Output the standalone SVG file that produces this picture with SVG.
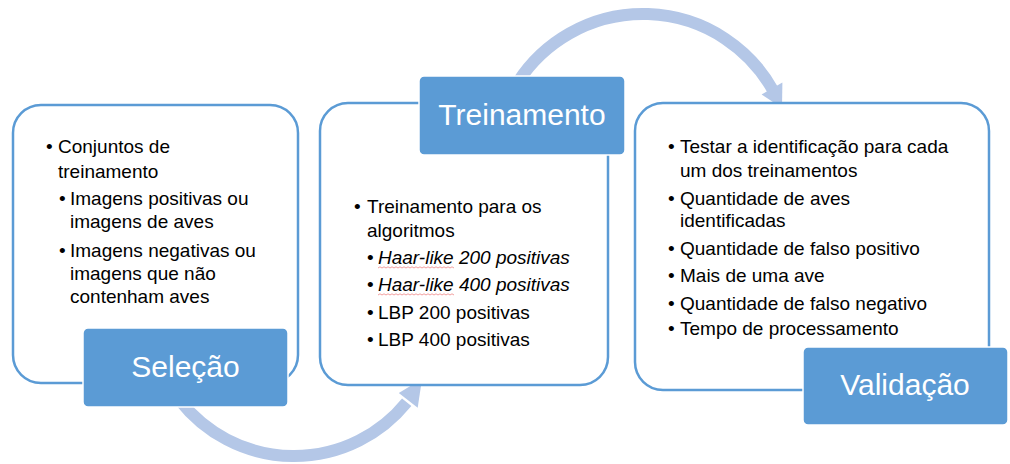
<svg xmlns="http://www.w3.org/2000/svg" width="1010" height="464" viewBox="0 0 1010 464">
<defs>
<style>
.panel{fill:#ffffff;stroke:#5b9bd5;stroke-width:2.5}
.label{fill:#5b9bd5;stroke:#ffffff;stroke-width:1.5}
.lt{font-family:"Liberation Sans",Arial,sans-serif;font-size:30px;fill:#ffffff;text-anchor:middle}
.t{font-family:"Liberation Sans",Arial,sans-serif;font-size:19px;fill:#000000}
.it{font-style:italic}
.shaft{fill:none;stroke:#b4c7e7;stroke-width:12}
.head{fill:#b4c7e7}
.sq{fill:none;stroke:#f2a0a0;stroke-width:1}
</style>
</defs>
<rect width="1010" height="464" fill="#ffffff"/>
<g id="connectors">
<path class="shaft" d="M179.7,400.3 A145,145 0 0 0 406.7,402.2"/>
<polygon class="head" points="398.8,392.9 422,379 417.7,407.7"/>
<path class="shaft" d="M518,81.9 A149,149 0 0 1 773.3,90.8"/>
<polygon class="head" points="761.6,94.5 782.4,82.5 782,108"/>
</g>
<g id="selecao">
<rect class="panel" x="13" y="105" width="285" height="278" rx="28"/>
<text class="t" x="46" y="153">•</text><text class="t" x="58" y="153">Conjuntos de</text>
<text class="t" x="58" y="178">treinamento</text>
<text class="t" x="59" y="205">•</text><text class="t" x="70" y="205">Imagens positivas ou</text>
<text class="t" x="70" y="228">imagens de aves</text>
<text class="t" x="59" y="257">•</text><text class="t" x="70" y="257">Imagens negativas ou</text>
<text class="t" x="70" y="280">imagens que não</text>
<text class="t" x="70" y="303">contenham aves</text>
<rect class="label" x="83" y="328" width="205" height="79" rx="5"/>
<text class="lt" x="185.5" y="377">Seleção</text>
</g>
<g id="treinamento">
<rect class="panel" x="320" y="103" width="288" height="282" rx="28"/>
<text class="t" x="354" y="213">•</text><text class="t" x="367" y="213">Treinamento para os</text>
<text class="t" x="367" y="237">algoritmos</text>
<text class="t" x="367" y="264">•</text><text class="t it" x="378" y="264">Haar-like 200 positivas</text>
<path class="sq" d="M378,268 l2,-1.2 l2,1.2 l2,-1.2 l2,1.2 l2,-1.2 l2,1.2 l2,-1.2 l2,1.2 l2,-1.2 l2,1.2 l2,-1.2 l2,1.2 l2,-1.2 l2,1.2 l2,-1.2 l2,1.2 l2,-1.2 l2,1.2 l2,-1.2 l2,1.2 l2,-1.2 l2,1.2 l2,-1.2 l2,1.2 l2,-1.2 l2,1.2 l2,-1.2 l2,1.2 l2,-1.2 l2,1.2 l2,-1.2 l2,1.2 l2,-1.2 l2,1.2 l2,-1.2 l2,1.2 l2,-1.2 l2,1.2"/>
<text class="t" x="367" y="291">•</text><text class="t it" x="378" y="291">Haar-like 400 positivas</text>
<path class="sq" d="M378,295 l2,-1.2 l2,1.2 l2,-1.2 l2,1.2 l2,-1.2 l2,1.2 l2,-1.2 l2,1.2 l2,-1.2 l2,1.2 l2,-1.2 l2,1.2 l2,-1.2 l2,1.2 l2,-1.2 l2,1.2 l2,-1.2 l2,1.2 l2,-1.2 l2,1.2 l2,-1.2 l2,1.2 l2,-1.2 l2,1.2 l2,-1.2 l2,1.2 l2,-1.2 l2,1.2 l2,-1.2 l2,1.2 l2,-1.2 l2,1.2 l2,-1.2 l2,1.2 l2,-1.2 l2,1.2 l2,-1.2 l2,1.2"/>
<text class="t" x="367" y="319">•</text><text class="t" x="378" y="319">LBP 200 positivas</text>
<text class="t" x="367" y="346">•</text><text class="t" x="378" y="346">LBP 400 positivas</text>
<rect class="label" x="419" y="76" width="206" height="79" rx="5"/>
<text class="lt" x="522" y="125">Treinamento</text>
</g>
<g id="validacao">
<rect class="panel" x="635" y="103" width="354" height="287" rx="28"/>
<text class="t" x="668" y="153">•</text><text class="t" x="680" y="153">Testar a identificação para cada</text>
<text class="t" x="680" y="177">um dos treinamentos</text>
<text class="t" x="668" y="205">•</text><text class="t" x="680" y="205">Quantidade de aves</text>
<text class="t" x="680" y="227">identificadas</text>
<text class="t" x="668" y="255">•</text><text class="t" x="680" y="255">Quantidade de falso positivo</text>
<text class="t" x="668" y="282">•</text><text class="t" x="680" y="282">Mais de uma ave</text>
<text class="t" x="668" y="310">•</text><text class="t" x="680" y="310">Quantidade de falso negativo</text>
<text class="t" x="668" y="335">•</text><text class="t" x="680" y="335">Tempo de processamento</text>
<rect class="label" x="803" y="347" width="205" height="78" rx="5"/>
<text class="lt" x="905" y="395">Validação</text>
</g>
</svg>
